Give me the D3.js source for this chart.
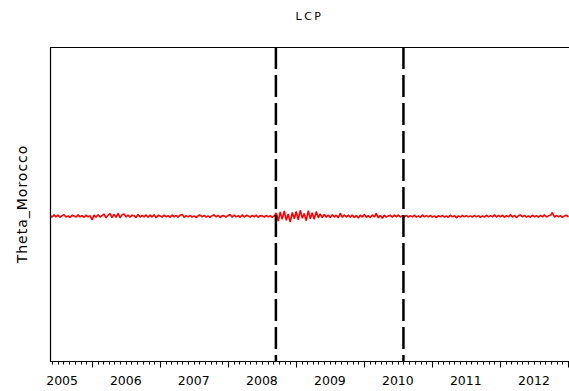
<!DOCTYPE html>
<html>
<head>
<meta charset="utf-8">
<script src="https://cdn.jsdelivr.net/npm/d3@7"></script>
<style>
  body { margin: 0; background: #fff; }
  svg { display: block; font-family: "DejaVu Sans", sans-serif; }
</style>
</head>
<body>
<svg id="chart" width="569" height="391"></svg>
<script>
// series: one reading about every 10.75 days, starting 2005-05-21
const startDate = "2005-05-21";
const stepDays = 10.75;
const theta = [
  0.04,-0.03,0.06,-0.02,0.05,-0.04,0.03,0.07,-0.03,0.02,
  -0.05,0.04,0.02,-0.03,0.06,-0.02,0.03,-0.04,0.05,-0.02,
  0.03,-0.15,0.05,-0.04,0.07,-0.03,0.04,0.09,-0.06,0.05,
  0.11,-0.05,0.08,-0.04,0.12,-0.06,0.07,0.1,-0.03,0.06,
  -0.04,0.05,0.02,-0.05,0.08,-0.03,0.04,-0.02,0.06,-0.04,
  0.05,-0.03,0.07,-0.06,0.04,0.02,-0.03,0.05,-0.02,0.03,
  -0.04,0.06,-0.02,0.04,-0.03,0.05,0.08,-0.04,0.03,-0.02,
  0.04,-0.03,0.02,-0.05,0.03,0.05,-0.02,0.04,-0.03,0.02,
  -0.04,0.03,0.06,-0.02,0.04,-0.05,0.03,0.02,-0.03,0.04,
  0.07,-0.04,0.05,-0.02,0.03,-0.04,0.06,-0.03,0.04,0.02,
  -0.03,0.04,-0.02,0.05,-0.04,0.03,0.02,-0.03,0.04,-0.02,
  0.03,-0.04,0.02,
  0.14,-0.2,0.18,-0.12,0.22,-0.16,0.1,-0.24,0.16,-0.1,0.2,-0.14,
  0.25,-0.08,0.12,-0.18,0.23,-0.1,0.15,-0.12,0.2,-0.06,0.1,
  -0.05,0.08,-0.04,0.06,
  -0.05,0.07,-0.03,0.05,-0.06,0.12,-0.04,0.06,-0.03,0.05,
  -0.04,0.06,-0.05,0.04,-0.07,0.05,-0.03,0.08,-0.04,0.03,
  -0.05,0.06,-0.03,0.12,-0.06,0.04,-0.08,0.05,-0.03,0.02,
  0.04,-0.03,0.05,-0.02,0.06,-0.03,0.03,-0.02,0.04,-0.03,
  0.03,-0.02,0.05,-0.03,0.02,-0.04,0.06,-0.02,0.03,-0.02,
  0.04,-0.03,0.02,-0.05,0.03,-0.02,0.04,-0.03,0.02,-0.04,
  0.05,-0.02,0.03,-0.06,0.02,-0.03,0.04,-0.02,0.03,-0.02,
  0.02,-0.03,0.04,-0.02,0.03,-0.04,0.02,-0.03,0.05,-0.02,
  0.03,-0.02,0.06,-0.03,0.04,-0.02,0.05,-0.04,0.03,-0.02,
  0.07,-0.03,0.04,-0.05,0.03,0.06,-0.02,0.04,-0.03,0.02,
  -0.04,0.05,-0.02,0.03,-0.03,0.04,-0.02,0.06,-0.03,0.02,
  0.05,0.16,-0.03,0.04,-0.02,0.03,-0.04,0.02,0.05,-0.03
];
const breakDates = ["2008-09-15", "2010-08-01"];
const yearLabels = ["2005", "2006", "2007", "2008", "2009", "2010", "2011", "2012"];
const labelDates = ["2005-07-25", "2006-07-02", "2007-07-02", "2008-07-02",
                    "2009-07-02", "2010-07-02", "2011-07-02", "2012-07-02"];
const xDomain = ["2005-05-21", "2013-01-06"];
const yDomain = [-6, 7];

const parse = d3.utcParse("%Y-%m-%d");
const start = parse(startDate);
const series = theta.map((v, i) => ({
    date: d3.utcDay.offset(start, Math.round(i * stepDays)),
    value: v
}));

const margin = {top: 47, right: 0, bottom: 29, left: 50};
const width = 569, height = 391;

const svg = d3.select("#chart");

const x = d3.scaleUtc()
    .domain(xDomain.map(parse))
    .range([margin.left, width - margin.right]);

const y = d3.scaleLinear()
    .domain(yDomain)
    .range([height - margin.bottom - 0.5, margin.top]);

svg.append("defs").append("clipPath")
    .attr("id", "plot-clip")
    .append("rect")
    .attr("x", margin.left)
    .attr("y", margin.top)
    .attr("width", width - margin.left - margin.right)
    .attr("height", height - margin.top - margin.bottom);

// red series
svg.append("path")
    .datum(series)
    .attr("clip-path", "url(#plot-clip)")
    .attr("fill", "none")
    .attr("stroke", "#ff0000")
    .attr("stroke-width", 1.6)
    .attr("stroke-linejoin", "bevel")
    .attr("d", d3.line().x(d => x(d.date)).y(d => y(d.value)));

// break lines
svg.append("g")
    .selectAll("line")
    .data(breakDates.map(parse))
    .join("line")
    .attr("x1", d => x(d))
    .attr("x2", d => x(d))
    .attr("y1", margin.top)
    .attr("y2", height - margin.bottom)
    .attr("stroke", "#000")
    .attr("stroke-width", 2.5)
    .attr("stroke-dasharray", "22,6");

// frame (left + top)
svg.append("path")
    .attr("d", `M${margin.left + 0.5},${height - margin.bottom}V${margin.top + 0.5}H${width}`)
    .attr("fill", "none")
    .attr("stroke", "#000")
    .attr("stroke-width", 1.2);

// x axis
const axisY = height - margin.bottom - 0.5;
const gx = svg.append("g");
gx.append("line")
    .attr("x1", margin.left)
    .attr("x2", width)
    .attr("y1", axisY)
    .attr("y2", axisY)
    .attr("stroke", "#000")
    .attr("stroke-width", 1.2);

const months = d3.utcMonth.range(...x.domain());
gx.selectAll(".tick")
    .data(months)
    .join("line")
    .attr("class", "tick")
    .attr("x1", d => Math.round(x(d)) + 0.5)
    .attr("x2", d => Math.round(x(d)) + 0.5)
    .attr("y1", axisY)
    .attr("y2", d => axisY + (d.getUTCMonth() === 0 ? 6 : 3))
    .attr("stroke", "#000")
    .attr("stroke-width", 1);

gx.selectAll("text")
    .data(yearLabels)
    .join("text")
    .attr("x", (d, i) => x(parse(labelDates[i])))
    .attr("y", 385)
    .attr("text-anchor", "middle")
    .attr("font-size", 12.5)
    .attr("fill", "#000")
    .text(d => d);

// title
svg.append("text")
    .attr("x", (margin.left + width) / 2)
    .attr("y", 20)
    .attr("text-anchor", "middle")
    .attr("font-size", 11)
    .attr("letter-spacing", 2.5)
    .text("LCP");

// y label
svg.append("text")
    .attr("transform", "translate(27,204) rotate(-90)")
    .attr("text-anchor", "middle")
    .attr("font-size", 14)
    .attr("letter-spacing", 1)
    .text("Theta_Morocco");
</script>
</body>
</html>
